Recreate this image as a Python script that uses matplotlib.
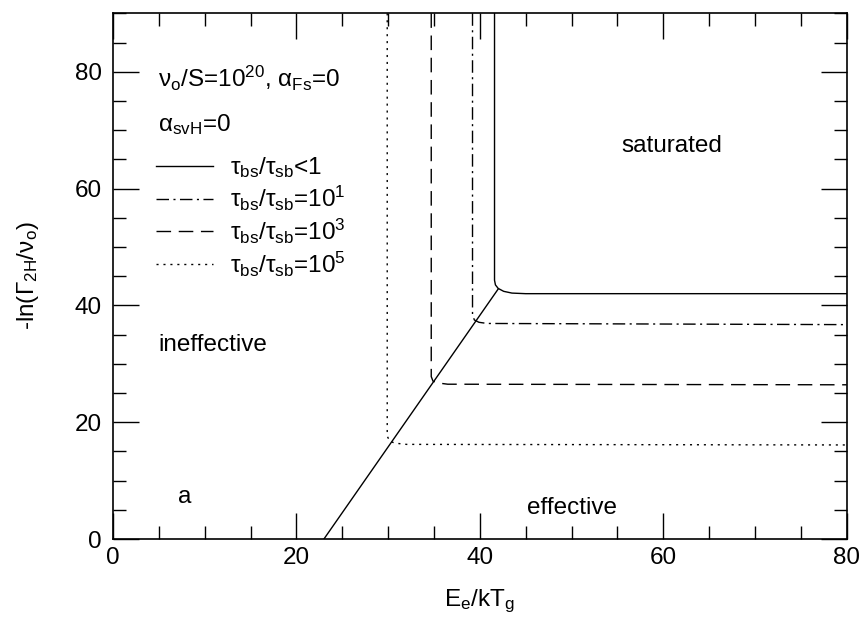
import matplotlib
matplotlib.use("Agg")
import matplotlib.pyplot as plt
from matplotlib.ticker import MultipleLocator

plt.rcParams['font.family'] = ['Liberation Sans', 'DejaVu Sans']
plt.rcParams['mathtext.fontset'] = 'custom'
plt.rcParams['mathtext.rm'] = 'Liberation Sans'
plt.rcParams['mathtext.it'] = 'Liberation Sans'
plt.rcParams['mathtext.default'] = 'rm'

# curves (E_e/kT_g, -ln(Gamma_2H/nu_o))
diag_x = [23.0, 42.0]
diag_y = [0.0, 42.8]

solid_x = [41.6, 41.6, 41.7, 42.0, 42.6, 43.5, 45.0, 80.0]
solid_y = [90.0, 44.3, 43.5, 42.9, 42.4, 42.1, 42.0, 42.0]

dashdot_x = [39.2, 39.2, 39.4, 39.9, 40.8, 80.0]
dashdot_y = [90.0, 38.4, 37.5, 37.1, 36.9, 36.7]

dashed_x = [34.7, 34.7, 34.9, 35.5, 36.5, 80.0]
dashed_y = [90.0, 27.8, 27.0, 26.7, 26.5, 26.4]

dotted_x = [29.9, 29.9, 30.2, 30.8, 32.0, 80.0]
dotted_y = [90.0, 17.6, 16.7, 16.4, 16.2, 16.1]

labels = [r'$\tau_{bs}/\tau_{sb}$<1',
          r'$\tau_{bs}/\tau_{sb}$=10$^1$',
          r'$\tau_{bs}/\tau_{sb}$=10$^3$',
          r'$\tau_{bs}/\tau_{sb}$=10$^5$']

fs = 17.5
lw = 1.0
dash_dd = (0, (9, 3.2, 1.5, 3.2))
dash_da = (0, (10.5, 5.5))
dash_do = (0, (1.5, 3.5))

fig = plt.figure(figsize=(8.65, 6.21), dpi=100)
ax = fig.add_axes([113 / 865, 1 - 539 / 621, (846.7 - 113) / 865, (539 - 13.3) / 621])

ax.plot(diag_x, diag_y, color='black', lw=lw)
l1, = ax.plot(solid_x, solid_y, color='black', lw=lw, label=labels[0])
l2, = ax.plot(dashdot_x, dashdot_y, color='black', lw=lw, linestyle=dash_dd, label=labels[1])
l3, = ax.plot(dashed_x, dashed_y, color='black', lw=lw, linestyle=dash_da, label=labels[2])
l4, = ax.plot(dotted_x, dotted_y, color='black', lw=lw, linestyle=dash_do, label=labels[3])

ax.set_xlim(0, 80)
ax.set_ylim(0, 90)
ax.xaxis.set_major_locator(MultipleLocator(20))
ax.xaxis.set_minor_locator(MultipleLocator(5))
ax.yaxis.set_major_locator(MultipleLocator(20))
ax.yaxis.set_minor_locator(MultipleLocator(5))
ax.tick_params(which='both', direction='in', top=True, right=True, width=1.0, labelsize=fs)
ax.tick_params(which='major', length=19)
ax.tick_params(which='minor', length=9.5)
ax.tick_params(axis='x', pad=6)
ax.tick_params(axis='y', pad=8)
for sp in ax.spines.values():
    sp.set_linewidth(1.2)

ax.set_xlabel(r'E$_e$/kT$_g$', fontsize=fs, labelpad=13)
ax.set_ylabel(r'-ln($\Gamma_{2H}$/$\nu_o$)', fontsize=fs, labelpad=24)

ax.text(4.9, 78.9, r'$\nu_o$/S=10$^{20}$, $\alpha_{Fs}$=0', fontsize=fs, va='center', ha='left')
ax.text(4.9, 70.9, r'$\alpha_{svH}$=0', fontsize=fs, va='center', ha='left')
ax.text(4.9, 33.2, 'ineffective', fontsize=fs, va='center', ha='left')
ax.text(60.9, 67.3, 'saturated', fontsize=fs, va='center', ha='center')
ax.text(50.0, 5.3, 'effective', fontsize=fs, va='center', ha='center')
ax.text(7.1, 7.2, 'a', fontsize=fs, va='center', ha='left')

ax.legend(handles=[l1, l2, l3, l4], loc='upper left', bbox_to_anchor=(0.035, 0.762),
          frameon=False, fontsize=fs, handlelength=2.35, handletextpad=0.7,
          labelspacing=0.15, borderpad=0.2)

fig.savefig('out.png', dpi=100)
